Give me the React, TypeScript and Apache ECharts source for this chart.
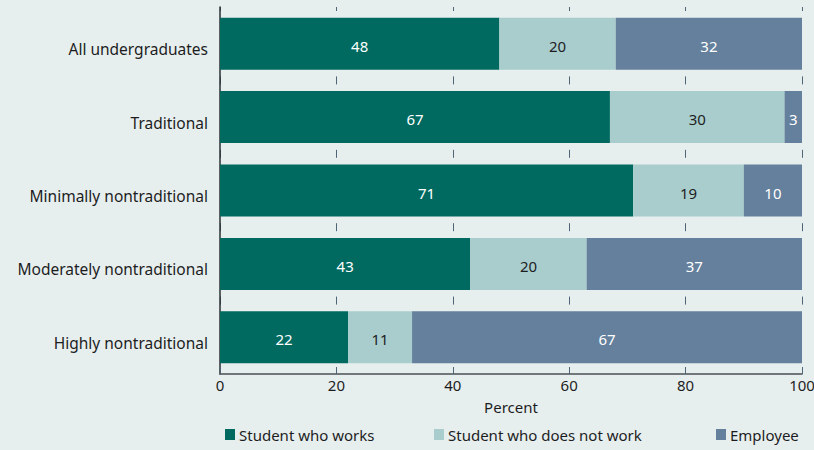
import React, { useEffect, useRef } from "react";
import * as echarts from "echarts";

const categories = [
  "All undergraduates",
  "Traditional",
  "Minimally nontraditional",
  "Moderately nontraditional",
  "Highly nontraditional",
];
const studentWorks = [48, 67, 71, 43, 22];
const studentNotWork = [20, 30, 19, 20, 11];
const employee = [32, 3, 10, 37, 67];
const seriesNames = ["Student who works", "Student who does not work", "Employee"];
const xTicks = { min: 0, max: 100, interval: 20 };

const FONT = "Noto Sans";
const TXT = "#1d1d1f";
const COLORS = ["#006a60", "#a9cdcd", "#64809d"];

export default function App() {
  const ref = useRef<HTMLDivElement>(null);
  useEffect(() => {
    if (!ref.current) return;
    const chart = echarts.init(ref.current, undefined, { renderer: "svg" });
    const values = [studentWorks, studentNotWork, employee];
    const labelColors = ["#ffffff", TXT, "#ffffff"];
    const legendLefts = [225, 434, 716];
    chart.setOption({
      animation: false,
      backgroundColor: "#e7efee",
      textStyle: { fontFamily: FONT },
      grid: {
        left: 220,
        right: 12,
        top: 7,
        bottom: 76,
        containLabel: false,
        outerBoundsMode: "none",
      },
      legend: seriesNames.map((n, i) => ({
        data: [n],
        left: legendLefts[i],
        top: 427,
        itemWidth: 10,
        itemHeight: 11,
        itemGap: 6,
        icon: "rect",
        textStyle: { fontFamily: FONT, fontSize: 15, color: TXT, padding: [0, 0, 0, -1] },
        selectedMode: false,
        padding: 0,
      })),
      xAxis: {
        type: "value",
        min: xTicks.min,
        max: xTicks.max,
        interval: xTicks.interval,
        name: "Percent",
        nameLocation: "middle",
        nameGap: 25,
        nameTextStyle: { fontFamily: FONT, fontSize: 15, color: TXT },
        axisLine: { show: true, lineStyle: { color: "#4a4f55", width: 1.5 } },
        axisTick: { show: true, inside: true, length: 7, lineStyle: { color: "#4f6577", width: 1 } },
        axisLabel: { fontFamily: FONT, fontSize: 15, color: TXT, margin: 3 },
        splitLine: {
          show: true,
          lineStyle: { color: "#4f6577", width: 1, type: [8, 65.4], dashOffset: 4 },
        },
      },
      yAxis: {
        type: "category",
        data: categories,
        inverse: true,
        axisLine: { show: true, lineStyle: { color: "#2b2f33", width: 1.5 } },
        axisTick: { show: false },
        axisLabel: {
          fontFamily: FONT,
          fontSize: 15.5,
          color: TXT,
          margin: 12,
          verticalAlign: "top",
          lineHeight: 11,
        },
        splitLine: { show: false },
      },
      series: seriesNames.map((n, i) => ({
        name: n,
        type: "bar",
        stack: "total",
        barWidth: 52,
        data: values[i],
        itemStyle: { color: COLORS[i] },
        label: {
          show: true,
          position: "inside",
          offset: [0, 2],
          color: labelColors[i],
          fontFamily: FONT,
          fontSize: 15,
        },
      })),
    });
    return () => chart.dispose();
  }, []);
  return (
    <div
      ref={ref}
      style={{ position: "absolute", left: 0, top: 0, width: 814, height: 450 }}
    />
  );
}
